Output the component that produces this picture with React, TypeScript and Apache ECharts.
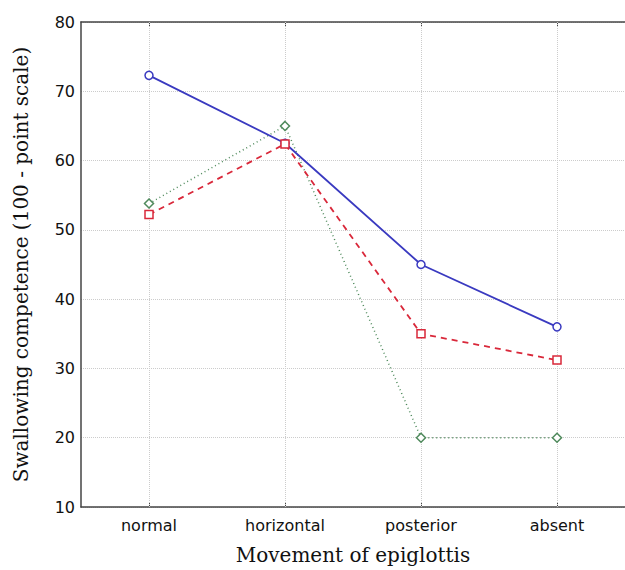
import React, { useEffect, useRef } from "react";
import * as echarts from "echarts";

const categories = ["normal", "horizontal", "posterior", "absent"];
const blueValues = [72.3, 62.5, 45.0, 36.0];
const redValues = [52.2, 62.4, 35.0, 31.2];
const greenValues = [53.8, 65.0, 20.0, 20.0];
const yTicks = { min: 10, max: 80, interval: 10 };

export default function App() {
  const ref = useRef<HTMLDivElement>(null);
  useEffect(() => {
    if (!ref.current) return;
    const chart = echarts.init(ref.current, null, { renderer: "svg" });
    const axisLine = { show: true, lineStyle: { color: "#444", width: 1.5 } };
    const mk = (name: string, data: number[], color: string, type: any, symbol: string, lw: number, z: number) => ({
      name,
      type: "line",
      data,
      symbol,
      symbolSize: symbol === "diamond" ? 9 : 8,
      lineStyle: { color, type, width: lw },
      itemStyle: { color: "#fff", borderColor: color, borderWidth: 1.5 },
      z,
    });
    const green: any = mk("green", greenValues, "#4f8a5c", [1, 3], "diamond", 1.5, 3);
    green.markLine = {
      silent: true,
      symbol: "none",
      label: { show: false },
      lineStyle: { color: "#ccc", type: "dotted", width: 1 },
      z: 1,
      data: categories.map((c) => ({ xAxis: c })),
    };
    chart.setOption({
      animation: false,
      backgroundColor: "#fff",
      grid: { left: 81, top: 22, width: 546, bottom: 60, containLabel: false },
      xAxis: [
        {
          type: "category",
          data: categories,
          position: "bottom",
          boundaryGap: true,
          axisLine,
          axisTick: { show: true, inside: true, alignWithLabel: true, length: 4, lineStyle: { color: "#444" } },
          axisLabel: { color: "#111", fontSize: 16, fontFamily: "DejaVu Sans", margin: 10 },
          splitLine: { show: false },
          name: "Movement of epiglottis",
          nameLocation: "middle",
          nameGap: 38,
          nameTextStyle: { color: "#111", fontSize: 20, fontFamily: "DejaVu Serif" },
        },
        {
          type: "category",
          data: categories,
          position: "top",
          boundaryGap: true,
          axisLine,
          axisTick: { show: true, inside: true, alignWithLabel: true, length: 4, lineStyle: { color: "#444" } },
          axisLabel: { show: false },
          splitLine: { show: false },
        },
      ],
      yAxis: {
        type: "value",
        min: yTicks.min,
        max: yTicks.max,
        interval: yTicks.interval,
        axisLine,
        axisTick: { show: false },
        axisLabel: { color: "#111", fontSize: 16, fontFamily: "DejaVu Sans", margin: 6 },
        splitLine: { show: true, lineStyle: { color: "#ccc", type: "dotted", width: 1 } },
        name: "Swallowing competence (100 - point scale)",
        nameLocation: "middle",
        nameGap: 50,
        nameRotate: 90,
        nameTextStyle: { color: "#111", fontSize: 20, fontFamily: "DejaVu Serif" },
      },
      series: [
        green,
        mk("blue", blueValues, "#3a3ac0", "solid", "circle", 1.8, 3),
        mk("red", redValues, "#d9283a", [6, 5], "rect", 1.8, 4),
      ],
    });
    return () => chart.dispose();
  }, []);
  return <div ref={ref} style={{ position: "fixed", left: 0, top: 0, width: 625, height: 570 }} />;
}
